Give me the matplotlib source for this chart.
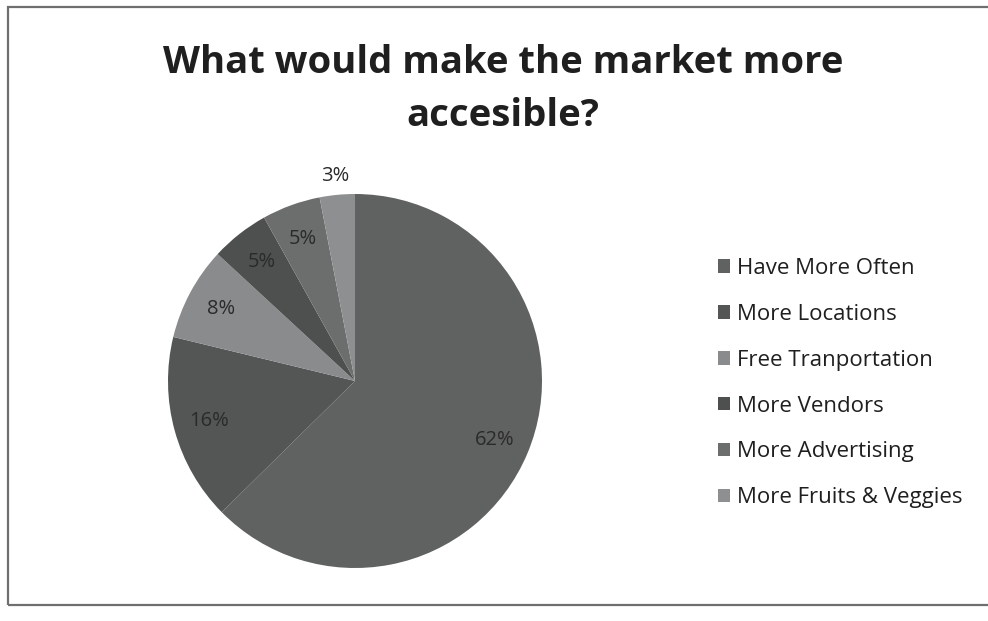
import numpy as np
import matplotlib.pyplot as plt
from matplotlib.patches import Rectangle, Patch

plt.rcParams['font.family'] = ['Open Sans', 'DejaVu Sans']

labels = ['Have More Often', 'More Locations', 'Free Tranportation',
          'More Vendors', 'More Advertising', 'More Fruits & Veggies']
values = [62, 16, 8, 5, 5, 3]
colors = ['#5f6261', '#535655', '#898b8d', '#4d504e', '#6c6e6e', '#8d8f91']

W, H = 988, 621
fig = plt.figure(figsize=(W / 100, H / 100), dpi=100)
fig.patch.set_facecolor('white')

# chart frame
fig.add_artist(Rectangle((8 / W, 1 - 605 / H), 1.0, 598 / H, transform=fig.transFigure,
                         fill=False, edgecolor='#6f6f6f', linewidth=1.6))

fig.text(503 / W, 1 - 73 / H, 'What would make the market more', ha='center', va='baseline',
         fontsize=27.5, fontweight='bold', color='#1f1f1f')
fig.text(503 / W, 1 - 126 / H, 'accesible?', ha='center', va='baseline',
         fontsize=27.5, fontweight='bold', color='#1f1f1f')

# pie axes: centre (355, 381) px, radius 187 px
cx, cy, r = 355, 381, 187
ax = fig.add_axes([(cx - r) / W, 1 - (cy + r) / H, 2 * r / W, 2 * r / H])
wedges, _ = ax.pie(values, colors=colors, startangle=90, counterclock=False,
                   radius=1, wedgeprops=dict(linewidth=0))
ax.set_xlim(-1, 1)
ax.set_ylim(-1, 1)
ax.set_aspect('auto')
ax.axis('off')

for w, v in zip(wedges, values):
    mid = np.deg2rad((w.theta1 + w.theta2) / 2)
    d = 1.1 if v < 4 else 0.81
    ax.text(d * np.cos(mid), d * np.sin(mid), f'{v}%', ha='center', va='center',
            fontsize=14.5, color='#2a2a2a')

handles = [Patch(facecolor=c, edgecolor='none') for c in colors]
fig.legend(handles, labels, loc='upper left', bbox_to_anchor=(709 / W, 1 - 249 / H),
           frameon=False, fontsize=16, labelcolor='#1f1f1f',
           handlelength=0.55, handleheight=0.55, handletextpad=0.3,
           labelspacing=1.12, borderaxespad=0)

fig.savefig('out.png', dpi=100)
